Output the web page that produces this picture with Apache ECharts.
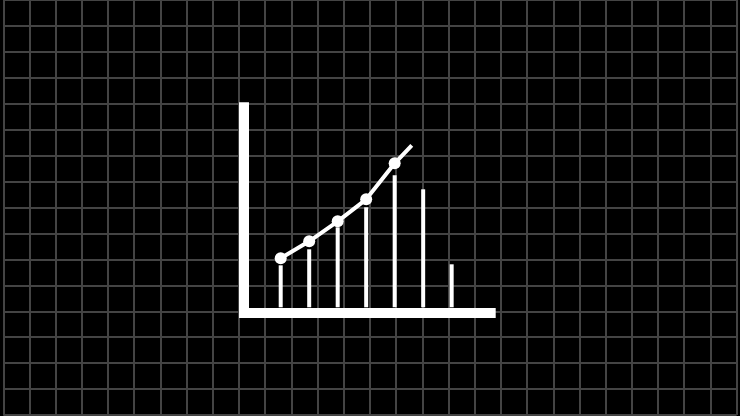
<!DOCTYPE html>
<html>
<head>
<meta charset="utf-8">
<script src="https://cdn.jsdelivr.net/npm/echarts@6/dist/echarts.min.js"></script>
<style>
html,body{margin:0;padding:0;background:#000;}
#c{width:740px;height:416px;}
</style>
</head>
<body>
<div id="c"></div>
<script>
// Data
const barX = [1, 2, 3, 4, 5, 6, 7];
const barValues = [2.1, 2.9, 4.0, 5.0, 6.6, 5.9, 2.15];
const lineX = [1, 2, 3, 4, 5, 5.6];
const lineValues = [2.45, 3.3, 4.3, 5.4, 7.2, 8.1];

const chart = echarts.init(document.getElementById('c'));
const gridLine = { show: true, lineStyle: { color: '#444', width: 2 } };
const hidden = { show: false };

chart.setOption({
  backgroundColor: '#000',
  animation: false,
  grid: [
    { left: 3.3, top: 0, width: 733.3, height: 415, containLabel: false },
    { left: 244, top: 107.3, width: 246.7, height: 200, containLabel: false }
  ],
  xAxis: [
    { gridIndex: 0, type: 'value', min: 0, max: 28, interval: 1,
      axisLine: hidden, axisTick: hidden, axisLabel: hidden, splitLine: gridLine },
    { gridIndex: 1, type: 'value', min: -0.288, max: 8.37, offset: 5,
      axisLine: { show: true, onZero: false, lineStyle: { color: '#fff', width: 10, cap: 'square' } },
      axisTick: hidden, axisLabel: hidden, splitLine: hidden }
  ],
  yAxis: [
    { gridIndex: 0, type: 'value', min: 0, max: 16, interval: 1, inverse: true,
      axisLine: hidden, axisTick: hidden, axisLabel: hidden, splitLine: gridLine },
    { gridIndex: 1, type: 'value', min: 0, max: 10,
      axisLine: { show: true, onZero: false, lineStyle: { color: '#fff', width: 10, cap: 'square' } },
      axisTick: hidden, axisLabel: hidden, splitLine: hidden }
  ],
  series: [
    {
      type: 'bar', xAxisIndex: 1, yAxisIndex: 1, barWidth: 4,
      itemStyle: { color: '#fff' },
      data: barX.map((x, i) => [x, barValues[i]])
    },
    {
      type: 'line', xAxisIndex: 1, yAxisIndex: 1,
      symbol: 'circle', symbolSize: 12,
      lineStyle: { color: '#fff', width: 4 },
      itemStyle: { color: '#fff' },
      data: lineX.map((x, i) => i === lineX.length - 1 ? { value: [x, lineValues[i]], symbol: 'none' } : [x, lineValues[i]])
    }
  ]
});
</script>
</body>
</html>
